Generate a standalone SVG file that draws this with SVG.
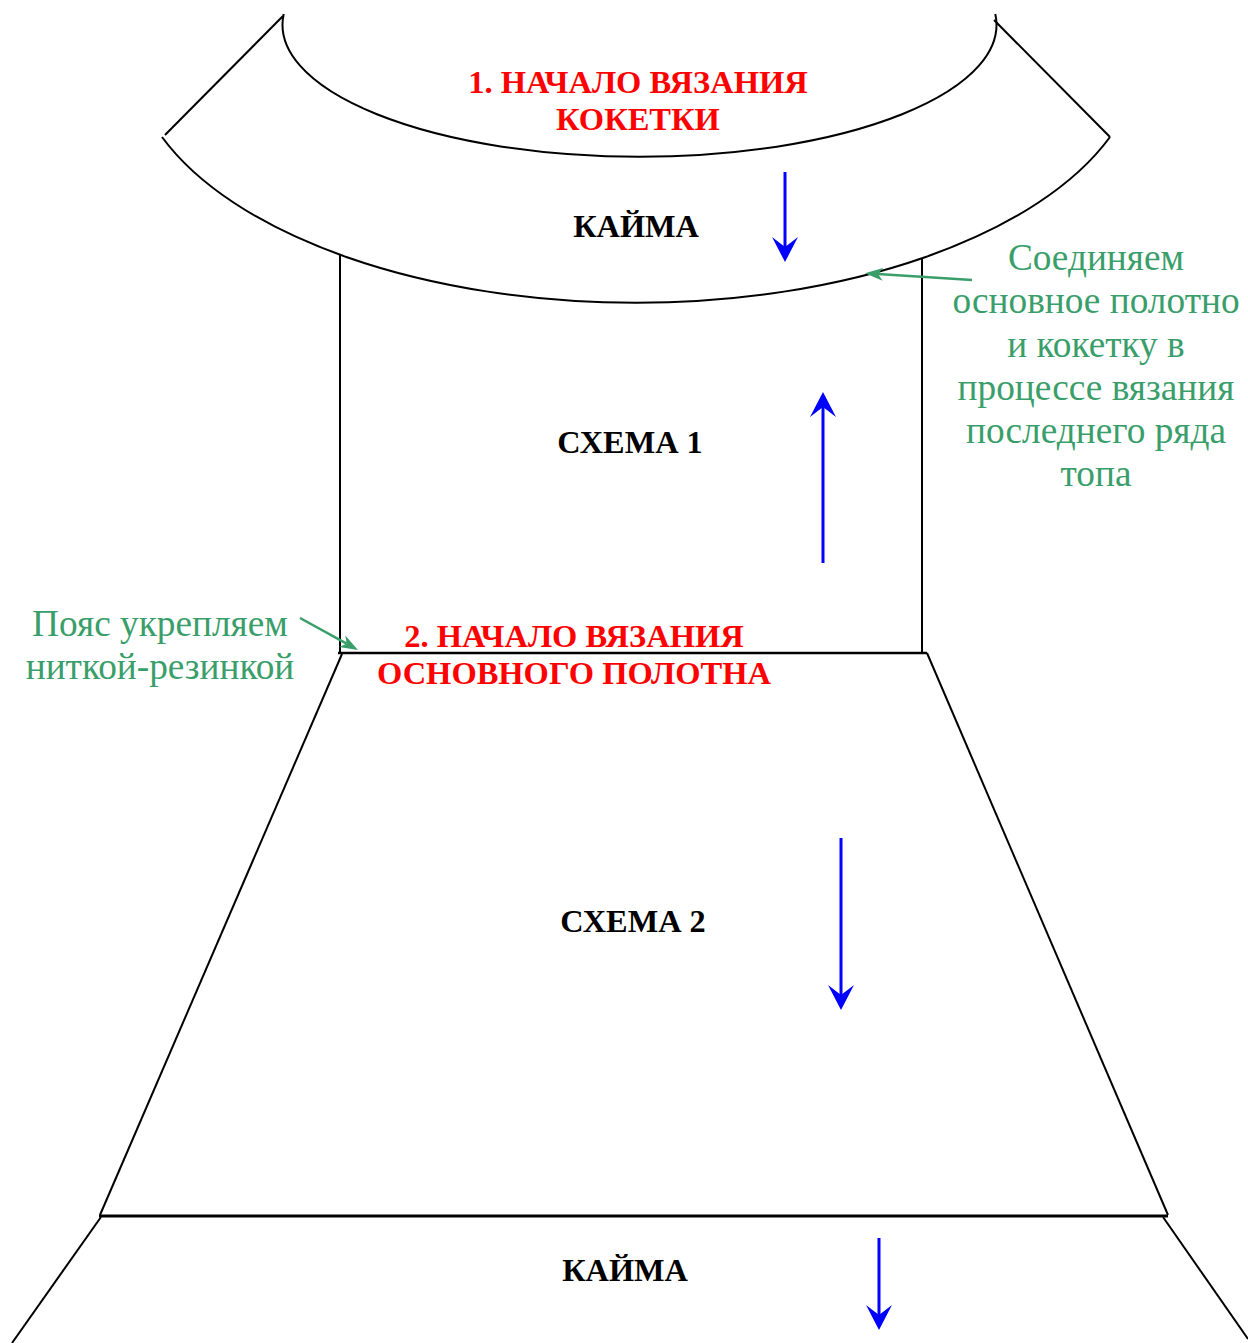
<svg xmlns="http://www.w3.org/2000/svg" width="1248" height="1343" viewBox="0 0 1248 1343">
<style>
.ln{fill:none;stroke:#000;stroke-width:2}
.bl{fill:none;stroke:#0000ff;stroke-width:3}
.gr{fill:none;stroke:#3a9e6a;stroke-width:2.5}
.red{font-family:"Liberation Serif",serif;font-weight:bold;font-size:32.5px;fill:#ff0000;text-anchor:middle}
.blk{font-family:"Liberation Serif",serif;font-weight:bold;font-size:32.3px;fill:#000;text-anchor:middle}
.gt{font-family:"Liberation Serif",serif;font-size:37.3px;fill:#3a9e6a;text-anchor:middle}
</style>
<defs>
<marker id="ab" markerUnits="userSpaceOnUse" markerWidth="26" markerHeight="26" viewBox="0 0 26 26" refX="10" refY="13" orient="auto">
<path d="M0,0 L25,13 L0,26 L10,13 Z" fill="#0000ff"/>
</marker>
<marker id="ag" markerUnits="userSpaceOnUse" markerWidth="18" markerHeight="14" viewBox="0 0 18 14" refX="5" refY="7" orient="auto">
<path d="M0,0.5 L18,7 L0,13.5 L5,7 Z" fill="#3a9e6a"/>
</marker>
</defs>
<g id="yoke">
<path class="ln" d="M283.7,14 A357,132 0 1 0 995.3,14"/>
<path class="ln" d="M162,137 A505,253 0 0 0 1110,137"/>
<line class="ln" x1="165" y1="135" x2="283" y2="16"/>
<line class="ln" x1="994" y1="20" x2="1110" y2="137"/>
</g>
<g id="body">
<line class="ln" x1="340" y1="255" x2="340" y2="653"/>
<line class="ln" x1="922" y1="258" x2="922" y2="653"/>
<line class="ln" x1="338" y1="653" x2="927" y2="653" style="stroke-width:2.5"/>
</g>
<g id="skirt">
<line class="ln" x1="342" y1="654" x2="100" y2="1215"/>
<line class="ln" x1="927" y1="653" x2="1168" y2="1215"/>
<line class="ln" x1="99" y1="1216" x2="1168" y2="1216" style="stroke-width:3"/>
</g>
<g id="border">
<line class="ln" x1="101" y1="1217" x2="12" y2="1343"/>
<line class="ln" x1="1163" y1="1217" x2="1248" y2="1339"/>
</g>
<g id="connectors">
<line class="bl" x1="785" y1="172" x2="785" y2="247" marker-end="url(#ab)"/>
<line class="bl" x1="823" y1="563" x2="823" y2="407" marker-end="url(#ab)"/>
<line class="bl" x1="841" y1="838" x2="841" y2="995" marker-end="url(#ab)"/>
<line class="bl" x1="879" y1="1238" x2="879" y2="1315" marker-end="url(#ab)"/>
<line class="gr" x1="972" y1="280" x2="878" y2="274" marker-end="url(#ag)"/>
<line class="gr" x1="300" y1="618" x2="346.6" y2="643.7" marker-end="url(#ag)"/>
</g>
<g id="labels">
<text class="red" x="638" y="93">1. НАЧАЛО ВЯЗАНИЯ</text>
<text class="red" x="638" y="130">КОКЕТКИ</text>
<text class="blk" x="636" y="237">КАЙМА</text>
<text class="blk" x="630" y="453">СХЕМА 1</text>
<text class="red" x="574" y="647">2. НАЧАЛО ВЯЗАНИЯ</text>
<text class="red" x="574" y="684">ОСНОВНОГО ПОЛОТНА</text>
<text class="blk" x="633" y="932">СХЕМА 2</text>
<text class="blk" x="625" y="1281">КАЙМА</text>
</g>
<g id="note-right">
<text class="gt" x="1096" y="270">Соединяем</text>
<text class="gt" x="1096" y="313">основное полотно</text>
<text class="gt" x="1096" y="357">и кокетку в</text>
<text class="gt" x="1096" y="400">процессе вязания</text>
<text class="gt" x="1096" y="443">последнего ряда</text>
<text class="gt" x="1096" y="486">топа</text>
</g>
<g id="note-left">
<text class="gt" x="160" y="636">Пояс укрепляем</text>
<text class="gt" x="160" y="679">ниткой-резинкой</text>
</g>
</svg>
